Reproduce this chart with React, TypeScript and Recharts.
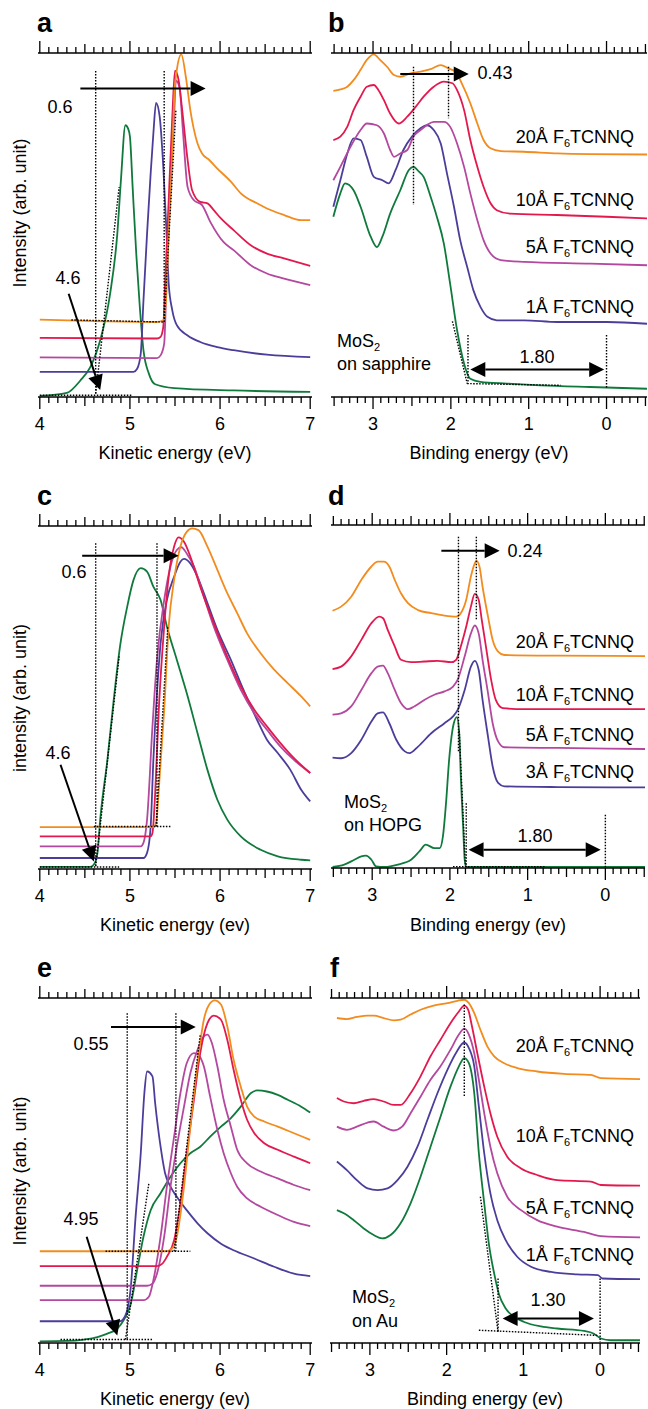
import React from 'react'
import { LineChart, Line, XAxis, YAxis, ReferenceLine } from 'recharts'

type Pt = [number, number]
type Seg = [Pt, Pt]

const ORANGE = '#f28c1e'
const RED = '#e3194e'
const MAGENTA = '#b4489f'
const BLUE = '#4b3e9b'
const GREEN = '#107a3d'
const FONT = "'Liberation Sans', Arial, Helvetica, sans-serif"

// axis ticks (minor every 0.1 eV, labels on integers)
const kineticTicks = Array.from({ length: 31 }, (_, i) => +(4 + i * 0.1).toFixed(1))
const bindingTicks = Array.from({ length: 41 }, (_, i) => +(-0.5 + i * 0.1).toFixed(1))
const kineticDomain: [number, number] = [3.98, 7.02]

const layersB = ['20Å', '10Å', '5Å', '1Å']
const layersD = ['20Å', '10Å', '5Å', '3Å']
const layersF = ['20Å', '10Å', '5Å', '1Å']

// ---- a: SECO, MoS2 on sapphire
const aGreen: Pt[] = [[4.0, 0.3], [4.3, 1.2], [4.45, 4.8], [4.56, 8.7], [4.67, 16.5], [4.78, 30], [4.86, 47.5], [4.9, 63], [4.95, 79], [4.98, 78], [5.0, 75.7], [5.03, 61], [5.07, 41.7], [5.11, 26], [5.15, 13.6], [5.21, 6.8], [5.28, 3.7], [5.49, 2.6], [6.15, 1.9], [7.0, 1.5]]
const aBlue: Pt[] = [[4.0, 7.3], [5.04, 7.3], [5.08, 8.2], [5.12, 12.6], [5.15, 28], [5.19, 47.5], [5.23, 65], [5.26, 76.6], [5.29, 85.5], [5.33, 81.5], [5.37, 67], [5.41, 45.6], [5.43, 33], [5.47, 25.2], [5.52, 20.9], [5.64, 17.9], [5.78, 16], [5.97, 14.5], [6.15, 13.6], [6.52, 12.3], [7.0, 11.6]]
const aMagenta: Pt[] = [[4.0, 11.5], [5.3, 11.3], [5.34, 12.1], [5.38, 15.5], [5.41, 37.8], [5.45, 62], [5.49, 81.5], [5.51, 92], [5.55, 90], [5.59, 76.6], [5.64, 61], [5.71, 57.2], [5.8, 55.8], [5.89, 51], [6.04, 45], [6.15, 42.7], [6.34, 38.3], [6.52, 35.9], [6.71, 34.4], [7.0, 32.5]]
const aRed: Pt[] = [[4.0, 17.2], [5.3, 17], [5.34, 17.5], [5.37, 20.4], [5.39, 33], [5.43, 57.2], [5.47, 81.5], [5.5, 94.9], [5.54, 92.1], [5.58, 83.4], [5.64, 68.9], [5.69, 60.1], [5.78, 56.7], [5.86, 56.3], [5.93, 54.3], [6.01, 51.9], [6.15, 48.5], [6.34, 44.1], [6.52, 41.7], [6.71, 40.3], [7.0, 38.1]]
const aOrange: Pt[] = [[4.0, 22.5], [5.3, 21.8], [5.37, 22.3], [5.4, 28.1], [5.43, 47.5], [5.47, 70.8], [5.49, 86.3], [5.52, 95], [5.57, 99.6], [5.62, 93.1], [5.67, 83.4], [5.75, 73.7], [5.8, 70.8], [5.88, 68.9], [5.97, 66.4], [6.12, 62.6], [6.23, 59.2], [6.41, 56.3], [6.52, 54.8], [6.71, 52.9], [6.9, 51.4], [7.0, 51.4]]
const aDotted: Seg[] = [[[4.62, 94.8], [4.62, 1]], [[5.38, 94.8], [5.38, 22.3]], [[4.0, 0.5], [5.03, 0.5]], [[4.35, 22.4], [5.38, 21.8]], [[4.62, 1], [4.88, 61]], [[5.38, 21.8], [5.51, 83.4]]]
const aArrows: Seg[] = [[[4.45, 89.7], [5.84, 89.7]], [[4.32, 30], [4.67, 2]]]

// ---- b: valence band, MoS2 on sapphire
const bOrange: Pt[] = [[3.51, 89], [3.42, 89.4], [3.33, 90.2], [3.25, 92.1], [3.16, 95.1], [3.08, 98], [2.99, 99.6], [2.91, 98], [2.82, 96], [2.73, 93.6], [2.65, 93.1], [2.52, 94.1], [2.39, 94.6], [2.26, 95.3], [2.13, 96.5], [2.03, 95.5], [1.94, 94.6], [1.86, 91.2], [1.75, 85.4], [1.66, 79.5], [1.58, 74.7], [1.49, 72.3], [1.36, 71.5], [1.06, 71.3], [0.63, 70.8], [0.21, 70.6], [-0.52, 70.5]]
const bRed: Pt[] = [[3.51, 74.7], [3.42, 75.7], [3.33, 78.6], [3.25, 83.4], [3.16, 87.3], [3.08, 90.2], [2.99, 90.7], [2.93, 89.2], [2.86, 86.3], [2.78, 82.4], [2.67, 79.5], [2.56, 81.5], [2.45, 84.4], [2.35, 87.3], [2.22, 90.2], [2.09, 91.7], [1.98, 91.2], [1.92, 89.2], [1.83, 83.4], [1.75, 74.7], [1.66, 66.9], [1.58, 61.1], [1.49, 56.3], [1.41, 54.3], [1.24, 53.3], [0.64, 52.9], [0.0, 52.4], [-0.52, 51.9]]
const bMagenta: Pt[] = [[3.51, 63], [3.42, 66.9], [3.29, 72.7], [3.16, 77.6], [3.08, 79.5], [2.95, 79], [2.86, 76.6], [2.78, 71.8], [2.73, 69.8], [2.65, 70.8], [2.56, 71.8], [2.48, 75.7], [2.39, 77.6], [2.31, 79], [2.22, 80], [2.09, 80], [2.01, 78.6], [1.92, 73.7], [1.83, 66.9], [1.75, 59.2], [1.66, 51.4], [1.58, 45.6], [1.49, 41.7], [1.36, 39.8], [1.06, 39.3], [0.21, 38.8], [-0.52, 38.3]]
const bBlue: Pt[] = [[3.51, 55.3], [3.42, 63], [3.33, 70.8], [3.25, 75.2], [3.16, 74.7], [3.08, 69.8], [2.99, 64], [2.88, 63], [2.8, 62.1], [2.71, 66], [2.61, 71.8], [2.5, 75.7], [2.39, 78.1], [2.31, 79], [2.22, 77.6], [2.13, 73.7], [2.05, 65], [1.96, 55.3], [1.88, 45.6], [1.79, 37.8], [1.71, 31], [1.62, 26.2], [1.53, 23.3], [1.41, 22.3], [1.06, 22.3], [0.63, 21.8], [-0.01, 21.8], [-0.52, 21.3]]
const bGreen: Pt[] = [[3.51, 52.4], [3.42, 59.2], [3.36, 62.1], [3.25, 60.1], [3.16, 55.3], [3.03, 46.6], [2.95, 43.6], [2.88, 46.6], [2.78, 53.3], [2.65, 60.1], [2.54, 66], [2.48, 66.9], [2.41, 65.5], [2.35, 64], [2.26, 58.2], [2.18, 52.4], [2.09, 44.6], [2.01, 33], [1.92, 19.4], [1.83, 9.7], [1.75, 5.3], [1.62, 4.4], [1.28, 3.9], [0.85, 3.4], [0.21, 2.9], [-0.52, 2.4]]
const bDotted: Seg[] = [[[2.48, 96], [2.48, 55.8]], [[2.03, 96], [2.03, 81]], [[1.78, 18], [1.78, 3.9]], [[0, 18], [0, 2.4]], [[1.98, 22], [1.79, 3.9]], [[1.79, 3.9], [0.59, 3.4]]]
const bArrows: Seg[] = [[[2.65, 93.9], [1.77, 93.9]]]
const bDouble: Seg[] = [[[1.75, 8], [0.03, 8]]]

// ---- c: SECO, MoS2 on HOPG
const cGreen: Pt[] = [[4.0, 0.6], [4.56, 0.6], [4.6, 1.3], [4.64, 4.7], [4.67, 14.4], [4.75, 31.8], [4.82, 49.3], [4.89, 64.9], [4.97, 76.5], [5.04, 84.3], [5.12, 87.7], [5.19, 86.7], [5.26, 82.3], [5.34, 78.4], [5.41, 70.7], [5.52, 61], [5.63, 51.3], [5.75, 39.6], [5.86, 28.9], [5.97, 20.2], [6.08, 14.4], [6.23, 9.5], [6.45, 5.6], [6.64, 3.7], [6.9, 2.7], [7.0, 2.5]]
const cBlue: Pt[] = [[4.0, 3.2], [5.15, 3.2], [5.19, 4.7], [5.23, 12.4], [5.26, 31.8], [5.3, 51.3], [5.34, 65.8], [5.41, 78.4], [5.49, 85.2], [5.56, 89.6], [5.6, 90.4], [5.67, 89.1], [5.75, 85.2], [5.86, 77.5], [5.97, 69.7], [6.12, 61], [6.26, 52.2], [6.41, 43.5], [6.52, 37.7], [6.64, 33.8], [6.78, 28.9], [6.9, 23.1], [7.0, 19.7]]
const cMagenta: Pt[] = [[4.0, 6.6], [5.12, 6.6], [5.15, 7.6], [5.19, 14.4], [5.25, 41.6], [5.3, 61], [5.38, 78.4], [5.45, 88.2], [5.52, 93], [5.57, 93.8], [5.63, 92], [5.71, 88.2], [5.82, 79.4], [5.93, 70.7], [6.08, 61], [6.23, 52.2], [6.38, 45.4], [6.52, 40.6], [6.67, 35.7], [6.82, 31.8], [7.0, 28]]
const cRed: Pt[] = [[4.0, 9.5], [5.23, 9.5], [5.25, 10.5], [5.28, 22.1], [5.32, 46.4], [5.38, 70.7], [5.43, 85.2], [5.49, 94], [5.54, 96.7], [5.6, 95.4], [5.67, 91.1], [5.78, 82.3], [5.93, 71.7], [6.08, 61.9], [6.23, 53.2], [6.38, 46.4], [6.52, 41.6], [6.67, 36.7], [6.82, 32.3], [7.0, 28]]
const cOrange: Pt[] = [[4.0, 12.2], [5.26, 12.2], [5.29, 13.4], [5.33, 27], [5.38, 46.4], [5.43, 70.7], [5.49, 84.3], [5.56, 94], [5.63, 98.3], [5.69, 99.3], [5.76, 98.8], [5.86, 94], [5.97, 87.2], [6.08, 80.4], [6.19, 74.6], [6.3, 68.7], [6.45, 62.9], [6.6, 58.1], [6.75, 54.2], [6.9, 50.3], [7.0, 47.4]]
const cDotted: Seg[] = [[[4.62, 95], [4.62, 0.8]], [[5.3, 95], [5.3, 12.4]], [[4.6, 12.4], [5.45, 12.4]], [[4.0, 0.6], [4.88, 0.6]], [[4.62, 0.8], [4.88, 62]], [[5.29, 12.4], [5.42, 70.7]]]
const cArrows: Seg[] = [[[4.47, 91.3], [5.54, 91.3]], [[4.23, 30.4], [4.6, 2.2]]]

// ---- d: valence band, MoS2 on HOPG
const dOrange: Pt[] = [[3.51, 75], [3.4, 76.2], [3.27, 79.1], [3.14, 84], [3.01, 87.9], [2.93, 89.3], [2.85, 89.3], [2.78, 87.9], [2.71, 84], [2.63, 80.1], [2.54, 77.2], [2.41, 75.2], [2.24, 74.3], [2.07, 73.6], [1.92, 73.3], [1.86, 74.3], [1.79, 78.2], [1.73, 85], [1.68, 88.8], [1.66, 89.6], [1.62, 87.9], [1.58, 82], [1.51, 73.3], [1.45, 66.5], [1.38, 63.1], [1.3, 62.1], [0.61, 61.9], [-0.51, 61.8]]
const dRed: Pt[] = [[3.51, 58], [3.4, 58.7], [3.27, 61.7], [3.14, 66.5], [3.01, 71.4], [2.91, 73.3], [2.86, 72.8], [2.8, 69.4], [2.71, 64.6], [2.63, 60.7], [2.5, 60], [2.33, 60.2], [2.16, 60.4], [1.98, 60], [1.92, 60.7], [1.86, 64.6], [1.79, 70.4], [1.73, 76.2], [1.68, 79.9], [1.63, 78.2], [1.59, 72.3], [1.53, 63.6], [1.47, 54.9], [1.41, 49], [1.32, 46.6], [1.04, 46.3], [-0.51, 46.3]]
const dMagenta: Pt[] = [[3.51, 44.7], [3.4, 45.1], [3.27, 47.1], [3.14, 51.9], [3.01, 56.8], [2.93, 58.7], [2.86, 59], [2.8, 56.8], [2.71, 51.9], [2.63, 48.1], [2.54, 46.3], [2.46, 47.1], [2.33, 49], [2.2, 50.5], [2.07, 51.5], [1.96, 52.9], [1.9, 54.9], [1.81, 61.7], [1.73, 68.4], [1.68, 70.7], [1.63, 68.4], [1.58, 60.7], [1.51, 51], [1.45, 42.2], [1.38, 36.9], [1.3, 35.2], [0.61, 35], [-0.51, 34.7]]
const dBlue: Pt[] = [[3.51, 32.2], [3.4, 32], [3.27, 33.5], [3.14, 37.4], [3.01, 42.7], [2.93, 45.1], [2.86, 45.4], [2.78, 42.2], [2.69, 37.4], [2.58, 34], [2.52, 33.5], [2.41, 35.4], [2.24, 39.3], [2.07, 42.2], [1.96, 44.2], [1.9, 46.1], [1.81, 51.9], [1.73, 58.7], [1.68, 60.4], [1.63, 57.8], [1.58, 49], [1.51, 38.3], [1.45, 29.6], [1.38, 24.8], [1.3, 23.8], [0.61, 23.6], [-0.51, 23.5]]
const dGreen: Pt[] = [[3.51, 0.3], [3.36, 1], [3.23, 2.4], [3.14, 3.4], [3.08, 3.6], [3.01, 2.4], [2.95, 0.5], [2.84, 0.3], [2.67, 1], [2.5, 2.4], [2.39, 4.9], [2.31, 6.8], [2.2, 5.8], [2.13, 5.8], [2.09, 9.2], [2.05, 18.9], [2.01, 31.6], [1.95, 42.2], [1.91, 44], [1.88, 39.3], [1.86, 26.7], [1.83, 12.1], [1.81, 2.4], [1.79, 0.3], [1.47, 0.3], [-0.51, 0.3]]
const dDotted: Seg[] = [[[1.89, 96.6], [1.89, 34]], [[1.66, 96.6], [1.66, 72.3]], [[1.79, 18.9], [1.79, 0.3]], [[0, 15.5], [0, 0.3]], [[1.96, 0.4], [0.78, 0.4]], [[1.88, 40], [1.8, 0.3]]]
const dArrows: Seg[] = [[[2.11, 92.5], [1.36, 92.5]]]
const dDouble: Seg[] = [[[1.76, 5.3], [0.06, 5.3]]]

// ---- e: SECO, MoS2 on Au
const eGreen: Pt[] = [[4.0, 0.5], [4.3, 0.6], [4.49, 1], [4.64, 1.7], [4.75, 2.7], [4.86, 4.2], [4.93, 6.6], [5.01, 11.4], [5.08, 21.1], [5.15, 30.8], [5.23, 38.5], [5.34, 43.4], [5.45, 48.2], [5.56, 52.1], [5.67, 55], [5.78, 56.9], [5.89, 59.8], [6.01, 62.7], [6.12, 65.2], [6.23, 68.5], [6.34, 72.4], [6.41, 73.2], [6.52, 72.9], [6.64, 71.9], [6.75, 70.5], [6.9, 68.5], [7.0, 66.8]]
const eBlue: Pt[] = [[4.0, 6.3], [4.89, 6.3], [4.95, 8], [5.01, 16.3], [5.06, 35.6], [5.12, 55], [5.16, 72.4], [5.19, 78.7], [5.25, 77.3], [5.28, 69.5], [5.34, 56.9], [5.39, 49.2], [5.45, 45.3], [5.52, 42.4], [5.63, 38.5], [5.75, 34.7], [5.86, 31.8], [6.01, 28.8], [6.15, 26.9], [6.38, 24.5], [6.6, 22.1], [6.82, 20.1], [7.0, 19.4]]
const eMagentaLow: Pt[] = [[4.0, 12.4], [5.15, 12.4], [5.21, 13.4], [5.26, 18.2], [5.34, 30.8], [5.41, 45.3], [5.49, 59.8], [5.56, 72.4], [5.63, 81.1], [5.71, 84], [5.76, 83.5], [5.82, 80.2], [5.89, 71.4], [5.97, 61.8], [6.04, 55], [6.12, 49.2], [6.19, 45.3], [6.3, 41.9], [6.45, 39.5], [6.64, 37.1], [6.82, 35.1], [7.0, 33.9]]
const eMagentaHigh: Pt[] = [[4.0, 16.6], [5.19, 16.6], [5.25, 17.2], [5.3, 20.1], [5.38, 30.8], [5.45, 45.3], [5.52, 56.9], [5.6, 68.5], [5.67, 78.2], [5.75, 85], [5.82, 88.9], [5.86, 89.4], [5.91, 86.9], [5.97, 80.2], [6.04, 70.5], [6.12, 62.7], [6.19, 56], [6.3, 52.1], [6.45, 49.7], [6.64, 47.7], [6.82, 45.8], [7.0, 44.3]]
const eRed: Pt[] = [[4.0, 22.3], [5.3, 22.3], [5.36, 23], [5.41, 25], [5.49, 29.8], [5.56, 40.5], [5.63, 55], [5.71, 70.5], [5.78, 84], [5.86, 92.7], [5.93, 94.9], [6.01, 93.7], [6.08, 87.9], [6.15, 79.2], [6.23, 70.5], [6.3, 64.7], [6.38, 60.8], [6.49, 57.9], [6.64, 56], [6.82, 54], [7.0, 52.1]]
const eOrange: Pt[] = [[4.0, 26.6], [5.41, 26.6], [5.47, 27.4], [5.52, 30.8], [5.6, 45.3], [5.67, 62.7], [5.75, 81.1], [5.82, 93.7], [5.88, 98.1], [5.94, 99.3], [6.01, 98.1], [6.08, 91.8], [6.15, 82.1], [6.23, 74.3], [6.3, 68.5], [6.38, 65.6], [6.49, 64.2], [6.64, 62.7], [6.82, 60.8], [7.0, 58.9]]
const eDotted: Seg[] = [[[4.97, 95.6], [4.97, 1]], [[5.51, 95.6], [5.51, 26.6]], [[4.73, 26.6], [5.67, 26.6]], [[4.23, 1], [5.25, 1]], [[4.95, 1], [5.21, 46.3]], [[5.49, 26.6], [5.78, 89.4]]]
const eArrows: Seg[] = [[[4.79, 91.6], [5.73, 91.6]], [[4.52, 30.8], [4.86, 2.2]]]

// ---- f: valence band, MoS2 on Au
const fOrange: Pt[] = [[3.43, 94.2], [3.3, 93.9], [3.17, 94.5], [3.03, 94.9], [2.95, 94.9], [2.82, 94.2], [2.69, 93.5], [2.6, 93.7], [2.47, 95.2], [2.34, 96.6], [2.17, 97.8], [1.99, 98.5], [1.86, 99.2], [1.77, 99.5], [1.71, 98.5], [1.64, 95.6], [1.56, 90.8], [1.47, 86], [1.38, 83.1], [1.25, 81.1], [1.08, 79.7], [0.82, 78.7], [0.47, 78], [0.12, 77.7], [-0.01, 76.8], [-0.52, 76.5]]
const fRed: Pt[] = [[3.43, 71], [3.34, 70], [3.21, 69.5], [3.08, 70.2], [2.95, 70.7], [2.82, 70], [2.69, 69], [2.6, 69], [2.47, 72.4], [2.34, 77.3], [2.21, 83.1], [2.08, 87.9], [1.95, 92.7], [1.84, 96.1], [1.77, 97.8], [1.72, 96.6], [1.67, 91.8], [1.6, 84], [1.51, 74.3], [1.43, 66.6], [1.34, 59.8], [1.21, 54], [1.03, 50.6], [0.82, 48.7], [0.56, 47.2], [0.12, 46.8], [-0.01, 45.8], [-0.52, 45.6]]
const fMagenta: Pt[] = [[3.43, 62.7], [3.3, 61.8], [3.17, 62.7], [3.03, 63.9], [2.95, 64.2], [2.82, 62.7], [2.69, 61.6], [2.58, 62.7], [2.47, 66.6], [2.34, 71.4], [2.21, 76.3], [2.08, 80.2], [1.95, 85], [1.84, 89.4], [1.77, 91.1], [1.71, 89.4], [1.64, 84], [1.58, 76.3], [1.51, 66.6], [1.43, 56.9], [1.34, 49.2], [1.21, 42.4], [1.03, 38.5], [0.82, 35.6], [0.56, 33.7], [0.21, 32.2], [-0.01, 31], [-0.52, 30.6]]
const fBlue: Pt[] = [[3.43, 52.6], [3.3, 50.1], [3.17, 47.2], [3.03, 44.8], [2.9, 44.3], [2.77, 44.8], [2.64, 47.2], [2.51, 51.1], [2.38, 56.9], [2.25, 64.7], [2.12, 72.4], [1.99, 79.2], [1.88, 84], [1.77, 87.1], [1.71, 85.5], [1.64, 80.2], [1.58, 68.5], [1.51, 55], [1.43, 43.4], [1.34, 35.6], [1.23, 29.8], [1.08, 25], [0.9, 22.1], [0.64, 20.6], [0.3, 19.9], [0.03, 19.7], [-0.03, 18.7], [-0.52, 18.5]]
const fGreen: Pt[] = [[3.43, 38.5], [3.34, 37.6], [3.21, 35.6], [3.08, 33.2], [2.95, 31.3], [2.84, 30.3], [2.73, 31.3], [2.6, 34.7], [2.47, 40.5], [2.34, 48.2], [2.21, 56.9], [2.08, 65.6], [1.95, 74.3], [1.84, 80.2], [1.77, 82.6], [1.71, 81.1], [1.64, 72.4], [1.58, 55], [1.51, 40.5], [1.45, 28.8], [1.38, 20.1], [1.32, 14.3], [1.23, 10], [1.12, 7.6], [0.99, 6.1], [0.77, 4.8], [0.56, 4.2], [0.21, 3.5], [0.08, 2.7], [-0.01, 1.3], [-0.14, 0.8], [-0.52, 0.8]]
const fDotted: Seg[] = [[[1.77, 98.1], [1.77, 71.4]], [[1.33, 18.7], [1.33, 3.2]], [[0, 18.7], [0, 0.3]], [[1.56, 42.4], [1.33, 3.2]], [[1.58, 3.7], [0.03, 2.2]]]
const fDouble: Seg[] = [[[1.27, 7.1], [0.08, 7.1]]]

const TOP_H = 16
const BOT_H = 44
const SIDE = 10
const axisLine = { stroke: '#000', strokeWidth: 1.4 }

const renderTick = (side: 'top' | 'bottom') => (p: any) => {
  const v = p.payload.value
  const major = Math.abs(v - Math.round(v)) < 1e-6
  const half = !major && Math.abs(v * 2 - Math.round(v * 2)) < 1e-6
  const len = major ? 12 : half ? 9 : 6
  const dir = side === 'bottom' ? 1 : -1
  return (
    <g>
      <line x1={p.x} x2={p.x} y1={p.y} y2={p.y + dir * len} stroke="#000" strokeWidth={1.3} />
      {side === 'bottom' && major && (
        <text x={p.x} y={p.y + 27} textAnchor="middle" dominantBaseline="central" fontSize={18} fontFamily={FONT} fill="#000">
          {Math.abs(Math.round(v))}
        </text>
      )}
    </g>
  )
}

const arrowShape = (both: boolean) => (p: any) => {
  const { x1, y1, x2, y2 } = p
  const len = Math.hypot(x2 - x1, y2 - y1) || 1
  const ux = (x2 - x1) / len
  const uy = (y2 - y1) / len
  const L = 15
  const W = 7.5
  const head = (tx: number, ty: number, sx: number, sy: number) =>
    `${tx},${ty} ${tx - sx * L - sy * W},${ty - sy * L + sx * W} ${tx - sx * L + sy * W},${ty - sy * L - sx * W}`
  const sx0 = both ? x1 + ux * L : x1
  const sy0 = both ? y1 + uy * L : y1
  return (
    <g>
      <line x1={sx0} y1={sy0} x2={x2 - ux * L} y2={y2 - uy * L} stroke="#000" strokeWidth={2} />
      <polygon points={head(x2, y2, ux, uy)} fill="#000" />
      {both && <polygon points={head(x1, y1, -ux, -uy)} fill="#000" />}
    </g>
  )
}

interface PanelProps {
  left: number
  top: number
  w: number
  h: number
  domain: [number, number]
  reversed?: boolean
  ticks: number[]
  series: { data: Pt[]; color: string }[]
  dotted: Seg[]
  arrows?: Seg[]
  doubles?: Seg[]
}

const seg = (s: Seg) => [{ x: s[0][0], y: s[0][1] }, { x: s[1][0], y: s[1][1] }]

function Panel({ left, top, w, h, domain, reversed, ticks, series, dotted, arrows = [], doubles = [] }: PanelProps) {
  return (
    <div style={{ position: 'absolute', left: left - SIDE, top: top - TOP_H }}>
      <LineChart width={w + 2 * SIDE} height={h + TOP_H + BOT_H} margin={{ top: 0, right: SIDE, bottom: 0, left: SIDE }}>
        <XAxis xAxisId="b" type="number" dataKey="x" domain={domain} reversed={reversed} ticks={ticks} interval={0}
          allowDataOverflow height={BOT_H} tickSize={0} tickMargin={0} tickLine={false} tick={renderTick('bottom')} axisLine={axisLine} />
        <XAxis xAxisId="t" orientation="top" type="number" dataKey="x" domain={domain} reversed={reversed} ticks={ticks} interval={0}
          allowDataOverflow height={TOP_H} tickSize={0} tickMargin={0} tickLine={false} tick={renderTick('top')} axisLine={axisLine} />
        <YAxis yAxisId="l" type="number" domain={[0, 100]} allowDataOverflow width={0} tick={false} tickLine={false} axisLine={axisLine} />
        <YAxis yAxisId="r" orientation="right" type="number" domain={[0, 100]} allowDataOverflow width={0} tick={false} tickLine={false} axisLine={axisLine} />
        {series.map((s, i) => (
          <Line key={i} xAxisId="b" yAxisId="l" data={s.data.map(([x, y]) => ({ x, y }))} dataKey="y" type="monotone"
            stroke={s.color} strokeWidth={1.8} dot={false} isAnimationActive={false} />
        ))}
        {dotted.map((s, i) => (
          <ReferenceLine key={'d' + i} xAxisId="b" yAxisId="l" segment={seg(s)} stroke="#000" strokeWidth={1.4}
            strokeDasharray="1.5 1.5" ifOverflow="visible" />
        ))}
        {arrows.map((s, i) => (
          <ReferenceLine key={'a' + i} xAxisId="b" yAxisId="l" segment={seg(s)} ifOverflow="visible" shape={arrowShape(false)} />
        ))}
        {doubles.map((s, i) => (
          <ReferenceLine key={'w' + i} xAxisId="b" yAxisId="l" segment={seg(s)} ifOverflow="visible" shape={arrowShape(true)} />
        ))}
      </LineChart>
    </div>
  )
}

const tr = { center: 'translate(-50%,-50%)', left: 'translate(0,-50%)', right: 'translate(-100%,-50%)' }

function Label({ x, y, align = 'center', children }: { x: number; y: number; align?: 'center' | 'left' | 'right'; children: React.ReactNode }) {
  return (
    <div style={{ position: 'absolute', left: x, top: y, transform: tr[align], fontSize: 18, lineHeight: 1, whiteSpace: 'nowrap' }}>
      {children}
    </div>
  )
}

const Sub = ({ children }: { children: React.ReactNode }) => (
  <span style={{ fontSize: 11, position: 'relative', top: 4, lineHeight: 0 }}>{children}</span>
)

function Letter({ x, top, children }: { x: number; top: number; children: React.ReactNode }) {
  return <div style={{ position: 'absolute', left: x, top, fontSize: 27, fontWeight: 700, lineHeight: 1 }}>{children}</div>
}

function YTitle({ y, text }: { y: number; text: string }) {
  return (
    <div style={{ position: 'absolute', left: 20, top: y, transform: 'translate(-50%,-50%) rotate(-90deg)', fontSize: 18, lineHeight: 1, whiteSpace: 'nowrap' }}>
      {text}
    </div>
  )
}

const Layer = ({ y, name }: { y: number; name: string }) => (
  <Label x={634} y={y} align="right">{name} F<Sub>6</Sub>TCNNQ</Label>
)

export default function App() {
  return (
    <div style={{ position: 'absolute', left: 0, top: 0, width: 648, height: 1409, overflow: 'hidden', background: '#fff', fontFamily: FONT, color: '#000' }}>
      <Panel left={38} top={53} w={274} h={344} domain={kineticDomain} ticks={kineticTicks}
        series={[{ data: aGreen, color: GREEN }, { data: aBlue, color: BLUE }, { data: aMagenta, color: MAGENTA }, { data: aRed, color: RED }, { data: aOrange, color: ORANGE }]}
        dotted={aDotted} arrows={aArrows} />
      <Panel left={331} top={53} w={316} h={344} domain={[-0.52, 3.54]} reversed ticks={bindingTicks}
        series={[{ data: bGreen, color: GREEN }, { data: bBlue, color: BLUE }, { data: bMagenta, color: MAGENTA }, { data: bRed, color: RED }, { data: bOrange, color: ORANGE }]}
        dotted={bDotted} arrows={bArrows} doubles={bDouble} />
      <Panel left={38} top={526} w={274} h={343} domain={kineticDomain} ticks={kineticTicks}
        series={[{ data: cGreen, color: GREEN }, { data: cBlue, color: BLUE }, { data: cMagenta, color: MAGENTA }, { data: cRed, color: RED }, { data: cOrange, color: ORANGE }]}
        dotted={cDotted} arrows={cArrows} />
      <Panel left={331} top={525} w={314} h={343} domain={[-0.51, 3.53]} reversed ticks={bindingTicks}
        series={[{ data: dGreen, color: GREEN }, { data: dBlue, color: BLUE }, { data: dMagenta, color: MAGENTA }, { data: dRed, color: RED }, { data: dOrange, color: ORANGE }]}
        dotted={dDotted} arrows={dArrows} doubles={dDouble} />
      <Panel left={38} top={998} w={274} h={345} domain={kineticDomain} ticks={kineticTicks}
        series={[{ data: eGreen, color: GREEN }, { data: eBlue, color: BLUE }, { data: eMagentaLow, color: MAGENTA }, { data: eMagentaHigh, color: MAGENTA }, { data: eRed, color: RED }, { data: eOrange, color: ORANGE }]}
        dotted={eDotted} arrows={eArrows} />
      <Panel left={330} top={998} w={310} h={345} domain={[-0.52, 3.52]} reversed ticks={bindingTicks}
        series={[{ data: fGreen, color: GREEN }, { data: fBlue, color: BLUE }, { data: fMagenta, color: MAGENTA }, { data: fRed, color: RED }, { data: fOrange, color: ORANGE }]}
        dotted={fDotted} doubles={fDouble} />

      <Letter x={37} top={10}>a</Letter>
      <Letter x={328} top={10}>b</Letter>
      <Letter x={37} top={483}>c</Letter>
      <Letter x={328} top={483}>d</Letter>
      <Letter x={37} top={955}>e</Letter>
      <Letter x={330} top={955}>f</Letter>

      <YTitle y={213} text="Intensity (arb. unit)" />
      <YTitle y={698} text="intensity (arb. unit)" />
      <YTitle y={1171} text="Intensity (arb. unit)" />

      <Label x={175} y={453}>Kinetic energy (eV)</Label>
      <Label x={489} y={453}>Binding energy (eV)</Label>
      <Label x={175} y={925}>Kinetic energy (ev)</Label>
      <Label x={488} y={925}>Binding energy (ev)</Label>
      <Label x={175} y={1399}>Kinetic energy (ev)</Label>
      <Label x={485} y={1399}>Binding energy (ev)</Label>

      <Label x={60} y={107}>0.6</Label>
      <Label x={68} y={278}>4.6</Label>
      <Label x={495} y={73}>0.43</Label>
      {layersB.map((n, i) => <Layer key={n} name={n} y={[137, 200, 247, 307][i]} />)}
      <Label x={337} y={341} align="left">MoS<Sub>2</Sub></Label>
      <Label x={337} y={364} align="left">on sapphire</Label>
      <Label x={537} y={357}>1.80</Label>

      <Label x={74} y={572}>0.6</Label>
      <Label x={58} y={753}>4.6</Label>
      <Label x={525} y={551}>0.24</Label>
      {layersD.map((n, i) => <Layer key={n} name={n} y={[642, 695, 735, 772][i]} />)}
      <Label x={344} y={802} align="left">MoS<Sub>2</Sub></Label>
      <Label x={344} y={825} align="left">on HOPG</Label>
      <Label x={535} y={836}>1.80</Label>

      <Label x={91} y={1044}>0.55</Label>
      <Label x={81} y={1219}>4.95</Label>
      {layersF.map((n, i) => <Layer key={n} name={n} y={[1046, 1136, 1208, 1255][i]} />)}
      <Label x={352} y={1297} align="left">MoS<Sub>2</Sub></Label>
      <Label x={352} y={1321} align="left">on Au</Label>
      <Label x={548} y={1300}>1.30</Label>
    </div>
  )
}
